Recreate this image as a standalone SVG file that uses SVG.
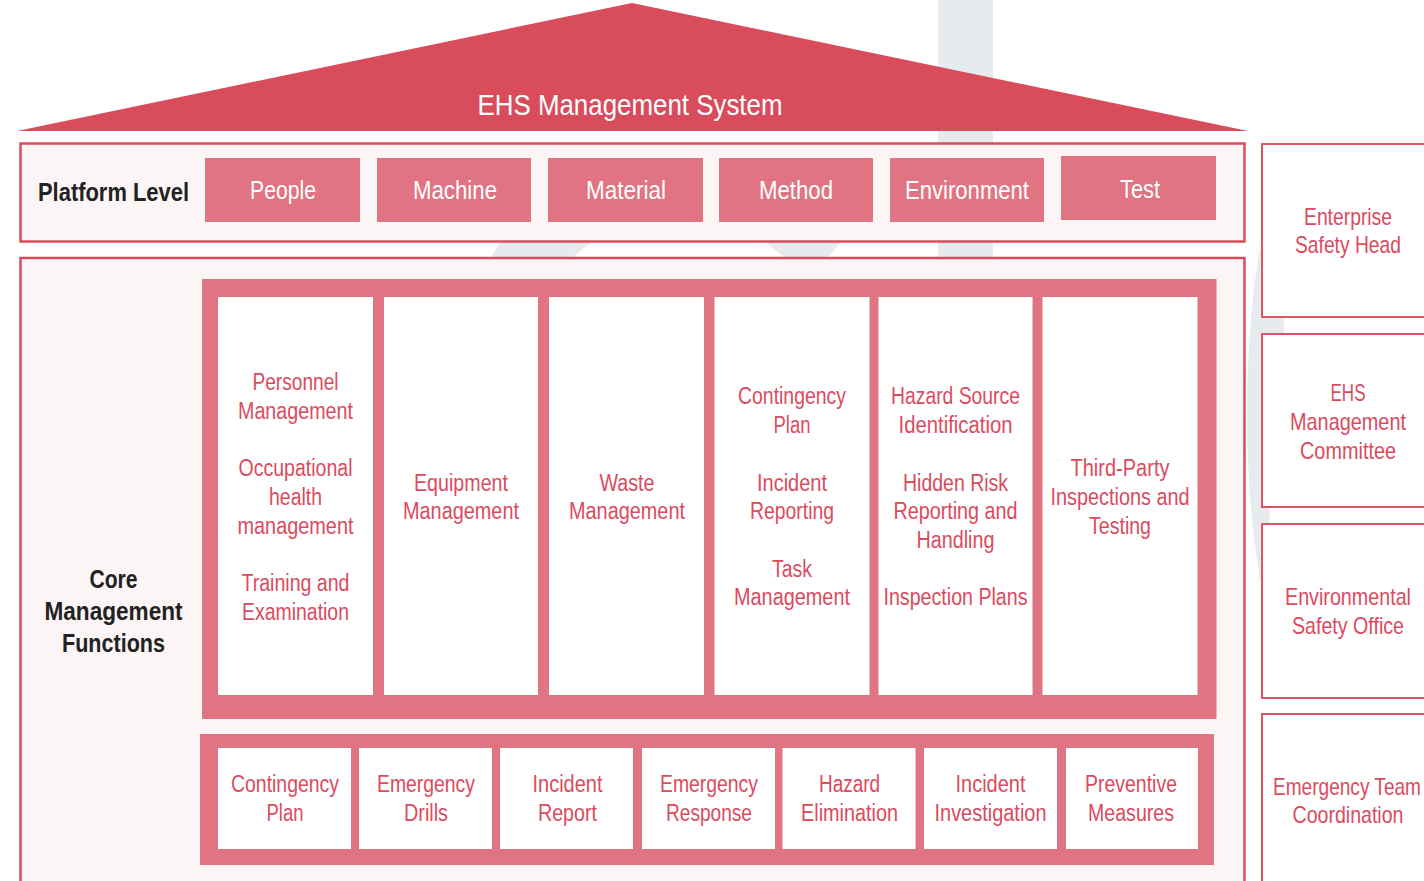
<svg xmlns="http://www.w3.org/2000/svg" width="1424" height="881" viewBox="0 0 1424 881">
<style>
text{font-family:"Liberation Sans",Arial,sans-serif;text-anchor:middle}
.wm{fill:#E6ECEE}
.roof{fill:#D94C5C}
.frame{fill:#FBF5F5;stroke:#D94C5C;stroke-width:2.5}
.pbox{fill:#E07482}
.wbox{fill:#FFFFFF}
.rfill{fill:#FFFFFF}
.rline{fill:none;stroke:#DA5566;stroke-width:2}
.title{fill:#FFFFFF;font-size:29px}
.pt{fill:#FFFFFF;font-size:26px}
.lbl{fill:#222222;font-size:25px;font-weight:bold}
.t{fill:#DB4B5E;font-size:23px}
.rt{fill:#DB4B5E;font-size:24px}
</style>
<rect width="1424" height="881" fill="#FFFFFF"/>
<g id="watermark">
<rect class="wm" x="938" y="0" width="55" height="881"/>
<polygon class="wm" points="502,238 596,238 565,264 487,264"/>
<polygon class="wm" points="760,238 844,238 823,264 793,264"/>
<path class="wm" d="M1292 238 L1262 238 C1249 300 1244 400 1249 480 C1252 530 1257 560 1262 592 L1276 592 C1268 520 1263 420 1268 340 C1272 300 1280 270 1296 238 Z"/>
<rect class="wm" x="1262" y="316" width="22" height="18"/>
</g>
<g id="roof">
<polygon class="roof" points="632,3 1248,131 17,131"/>
<text class="title" x="630" y="115" textLength="305" lengthAdjust="spacingAndGlyphs">EHS Management System</text>
</g>
<g id="platform">
<rect class="frame" x="20.5" y="143.5" width="1224" height="98"/>
<text class="lbl" x="113.5" y="201" textLength="151" lengthAdjust="spacingAndGlyphs">Platform Level</text>
</g>
<g id="p-people"><rect class="pbox" x="205" y="158" width="155" height="64"/><text class="pt" x="283" y="199" textLength="66" lengthAdjust="spacingAndGlyphs">People</text></g>
<g id="p-machine"><rect class="pbox" x="377" y="158" width="154" height="64"/><text class="pt" x="455" y="199" textLength="84" lengthAdjust="spacingAndGlyphs">Machine</text></g>
<g id="p-material"><rect class="pbox" x="548" y="158" width="155" height="64"/><text class="pt" x="626" y="199" textLength="80" lengthAdjust="spacingAndGlyphs">Material</text></g>
<g id="p-method"><rect class="pbox" x="719" y="158" width="154" height="64"/><text class="pt" x="796" y="199" textLength="74" lengthAdjust="spacingAndGlyphs">Method</text></g>
<g id="p-environment"><rect class="pbox" x="890" y="158" width="154" height="64"/><text class="pt" x="967" y="199" textLength="124" lengthAdjust="spacingAndGlyphs">Environment</text></g>
<g id="p-test"><rect class="pbox" x="1061" y="156" width="155" height="64"/><text class="pt" x="1140" y="198" textLength="40" lengthAdjust="spacingAndGlyphs">Test</text></g>

<g id="core">
<rect class="frame" x="20.5" y="258" width="1224" height="640"/>
<text class="lbl" x="113.5" y="588" textLength="48" lengthAdjust="spacingAndGlyphs">Core</text>
<text class="lbl" x="113.5" y="620" textLength="138" lengthAdjust="spacingAndGlyphs">Management</text>
<text class="lbl" x="113.5" y="652" textLength="103" lengthAdjust="spacingAndGlyphs">Functions</text>
<rect class="pbox" x="202" y="279" width="1014.5" height="440"/>
<rect class="pbox" x="200" y="734" width="1014" height="131"/>
</g>

<g id="col-people">
<rect class="wbox" x="218" y="297" width="155" height="398"/>
<text class="t" x="295.5" y="390" textLength="86" lengthAdjust="spacingAndGlyphs">Personnel</text>
<text class="t" x="295.5" y="419" textLength="115" lengthAdjust="spacingAndGlyphs">Management</text>
<text class="t" x="295.5" y="476" textLength="114" lengthAdjust="spacingAndGlyphs">Occupational</text>
<text class="t" x="295.5" y="505" textLength="53" lengthAdjust="spacingAndGlyphs">health</text>
<text class="t" x="295.5" y="534" textLength="116" lengthAdjust="spacingAndGlyphs">management</text>
<text class="t" x="295.5" y="591" textLength="108" lengthAdjust="spacingAndGlyphs">Training and</text>
<text class="t" x="295.5" y="620" textLength="107" lengthAdjust="spacingAndGlyphs">Examination</text>
</g>
<g id="col-equipment">
<rect class="wbox" x="384" y="297" width="154" height="398"/>
<text class="t" x="461" y="491" textLength="94" lengthAdjust="spacingAndGlyphs">Equipment</text>
<text class="t" x="461" y="519" textLength="116" lengthAdjust="spacingAndGlyphs">Management</text>
</g>
<g id="col-waste">
<rect class="wbox" x="549" y="297" width="155" height="398"/>
<text class="t" x="627" y="491" textLength="55" lengthAdjust="spacingAndGlyphs">Waste</text>
<text class="t" x="627" y="519" textLength="116" lengthAdjust="spacingAndGlyphs">Management</text>
</g>
<g id="col-contingency">
<rect class="wbox" x="714.5" y="297" width="155" height="398"/>
<text class="t" x="792" y="404" textLength="108" lengthAdjust="spacingAndGlyphs">Contingency</text>
<text class="t" x="792" y="433" textLength="37" lengthAdjust="spacingAndGlyphs">Plan</text>
<text class="t" x="792" y="491" textLength="70" lengthAdjust="spacingAndGlyphs">Incident</text>
<text class="t" x="792" y="519" textLength="84" lengthAdjust="spacingAndGlyphs">Reporting</text>
<text class="t" x="792" y="577" textLength="40" lengthAdjust="spacingAndGlyphs">Task</text>
<text class="t" x="792" y="605" textLength="116" lengthAdjust="spacingAndGlyphs">Management</text>
</g>
<g id="col-hazard">
<rect class="wbox" x="878.5" y="297" width="154" height="398"/>
<text class="t" x="955.5" y="404" textLength="129" lengthAdjust="spacingAndGlyphs">Hazard Source</text>
<text class="t" x="955.5" y="433" textLength="114" lengthAdjust="spacingAndGlyphs">Identification</text>
<text class="t" x="955.5" y="491" textLength="105" lengthAdjust="spacingAndGlyphs">Hidden Risk</text>
<text class="t" x="955.5" y="519" textLength="124" lengthAdjust="spacingAndGlyphs">Reporting and</text>
<text class="t" x="955.5" y="548" textLength="78" lengthAdjust="spacingAndGlyphs">Handling</text>
<text class="t" x="955.5" y="605" textLength="144" lengthAdjust="spacingAndGlyphs">Inspection Plans</text>
</g>
<g id="col-thirdparty">
<rect class="wbox" x="1042.5" y="297" width="155" height="398"/>
<text class="t" x="1120" y="476" textLength="99" lengthAdjust="spacingAndGlyphs">Third-Party</text>
<text class="t" x="1120" y="505" textLength="139" lengthAdjust="spacingAndGlyphs">Inspections and</text>
<text class="t" x="1120" y="534" textLength="62" lengthAdjust="spacingAndGlyphs">Testing</text>
</g>

<g id="b-contingency"><rect class="wbox" x="218" y="748" width="133" height="101"/>
<text class="t" x="285" y="792" textLength="108" lengthAdjust="spacingAndGlyphs">Contingency</text>
<text class="t" x="285" y="821" textLength="37" lengthAdjust="spacingAndGlyphs">Plan</text></g>
<g id="b-drills"><rect class="wbox" x="359" y="748" width="133" height="101"/>
<text class="t" x="426" y="792" textLength="98" lengthAdjust="spacingAndGlyphs">Emergency</text>
<text class="t" x="426" y="821" textLength="44" lengthAdjust="spacingAndGlyphs">Drills</text></g>
<g id="b-report"><rect class="wbox" x="500" y="748" width="133" height="101"/>
<text class="t" x="567.5" y="792" textLength="70" lengthAdjust="spacingAndGlyphs">Incident</text>
<text class="t" x="567.5" y="821" textLength="59" lengthAdjust="spacingAndGlyphs">Report</text></g>
<g id="b-response"><rect class="wbox" x="642" y="748" width="133" height="101"/>
<text class="t" x="709" y="792" textLength="98" lengthAdjust="spacingAndGlyphs">Emergency</text>
<text class="t" x="709" y="821" textLength="86" lengthAdjust="spacingAndGlyphs">Response</text></g>
<g id="b-elimination"><rect class="wbox" x="782.5" y="748" width="133" height="101"/>
<text class="t" x="849.5" y="792" textLength="61" lengthAdjust="spacingAndGlyphs">Hazard</text>
<text class="t" x="849.5" y="821" textLength="97" lengthAdjust="spacingAndGlyphs">Elimination</text></g>
<g id="b-investigation"><rect class="wbox" x="924" y="748" width="133" height="101"/>
<text class="t" x="990.5" y="792" textLength="70" lengthAdjust="spacingAndGlyphs">Incident</text>
<text class="t" x="990.5" y="821" textLength="112" lengthAdjust="spacingAndGlyphs">Investigation</text></g>
<g id="b-preventive"><rect class="wbox" x="1066" y="748" width="132" height="101"/>
<text class="t" x="1131" y="792" textLength="92" lengthAdjust="spacingAndGlyphs">Preventive</text>
<text class="t" x="1131" y="821" textLength="86" lengthAdjust="spacingAndGlyphs">Measures</text></g>

<g id="r-head"><rect class="rfill" x="1262" y="144" width="162" height="173"/>
<path class="rline" d="M1424 144 H1262 V317 H1424"/>
<text class="rt" x="1348" y="225" textLength="88" lengthAdjust="spacingAndGlyphs">Enterprise</text>
<text class="rt" x="1348" y="253" textLength="106" lengthAdjust="spacingAndGlyphs">Safety Head</text></g>
<g id="r-committee"><rect class="rfill" x="1262" y="334" width="162" height="173"/>
<path class="rline" d="M1424 334 H1262 V507 H1424"/>
<text class="rt" x="1348" y="401" textLength="35" lengthAdjust="spacingAndGlyphs">EHS</text>
<text class="rt" x="1348" y="430" textLength="116" lengthAdjust="spacingAndGlyphs">Management</text>
<text class="rt" x="1348" y="459" textLength="96" lengthAdjust="spacingAndGlyphs">Committee</text></g>
<g id="r-office"><rect class="rfill" x="1262" y="524" width="162" height="174"/>
<path class="rline" d="M1424 524 H1262 V698 H1424"/>
<text class="rt" x="1348" y="605" textLength="126" lengthAdjust="spacingAndGlyphs">Environmental</text>
<text class="rt" x="1348" y="634" textLength="112" lengthAdjust="spacingAndGlyphs">Safety Office</text></g>
<g id="r-team"><rect class="rfill" x="1262" y="714" width="162" height="167"/>
<path class="rline" d="M1424 714 H1262 V881"/>
<text class="rt" x="1347" y="795" textLength="148" lengthAdjust="spacingAndGlyphs">Emergency Team</text>
<text class="rt" x="1348" y="823" textLength="111" lengthAdjust="spacingAndGlyphs">Coordination</text></g>
<g id="connectors"></g>
</svg>
